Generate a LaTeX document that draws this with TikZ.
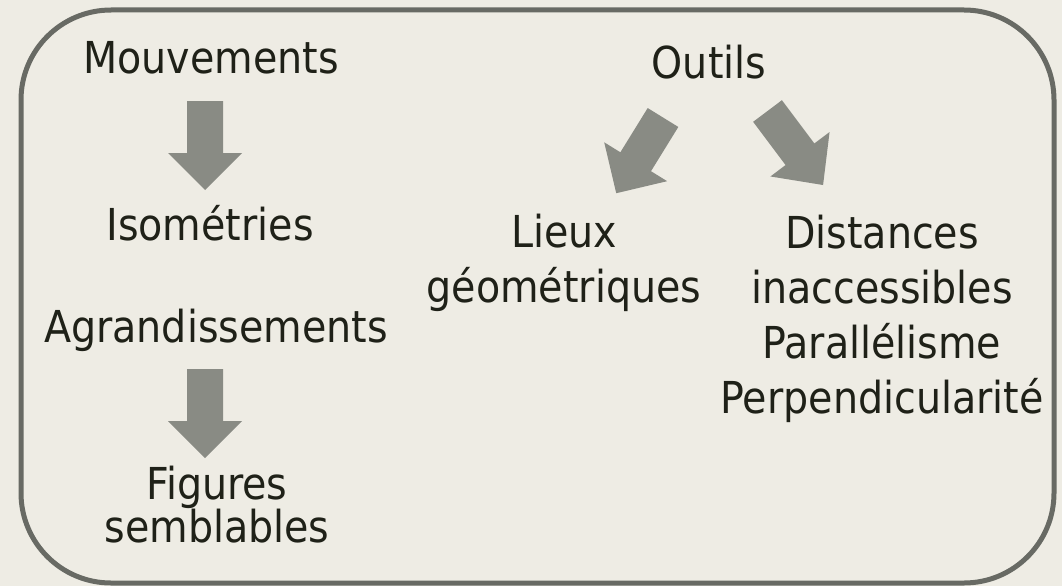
\documentclass[tikz,border=0pt]{standalone}
\usepackage{fontspec}
\setmainfont{DejaVu Sans Condensed}
\definecolor{paper}{HTML}{EEECE4}
\definecolor{frame}{HTML}{686A64}
\definecolor{arrowgray}{HTML}{898B84}
\definecolor{ink}{HTML}{1F2118}
\tikzset{
  label text/.style={text=ink, inner sep=0pt, anchor=base, align=center,
    font=\fontsize{44}{55}\selectfont},
  tight lines/.style={font=\fontsize{44}{43}\selectfont},
  barrow/.pic={\fill[arrowgray] (-18,0) -- (18,0) -- (18,52) -- (37,52)
    -- (0,89) -- (-37,52) -- (-18,52) -- cycle;}
}
\begin{document}
\begin{tikzpicture}[x=1pt,y=-1pt]
  % page background and rounded frame
  \fill[paper] (0,0) rectangle (1062,586);
  \useasboundingbox (0,0) rectangle (1062,586);
  \draw[frame, line width=5pt, rounded corners=90pt] (21,10) rectangle (1054,583);

  % left column (multi-line nodes sit on the baseline of their last line)
  \node[label text] (mouv) at (211,74) {Mouvements};
  \node[label text] (iso)  at (210,240) {Isométries};
  \node[label text] (agr)  at (216,342) {Agrandissements};
  \node[label text, tight lines] (fig) at (217,542) {Figures\\semblables};

  % right part
  \node[label text] (outils) at (709,78) {Outils};
  \node[label text] (lieux)  at (564,302) {Lieux\\géométriques};
  \node[label text] (dist)   at (882,413) {Distances\\inaccessibles\\Parallélisme\\Perpendicularité};

  % block arrows
  \coordinate (a1) at (205,101);
  \coordinate (a2) at (205,369);
  \coordinate (a3) at (663,117.5);
  \coordinate (a4) at (767.5,111);
  \pic at (a1) {barrow};
  \pic at (a2) {barrow};
  \pic[rotate=-31.7] at (a3) {barrow};
  \pic[rotate=36.9, yscale=1.04] at (a4) {barrow};
\end{tikzpicture}
\end{document}
